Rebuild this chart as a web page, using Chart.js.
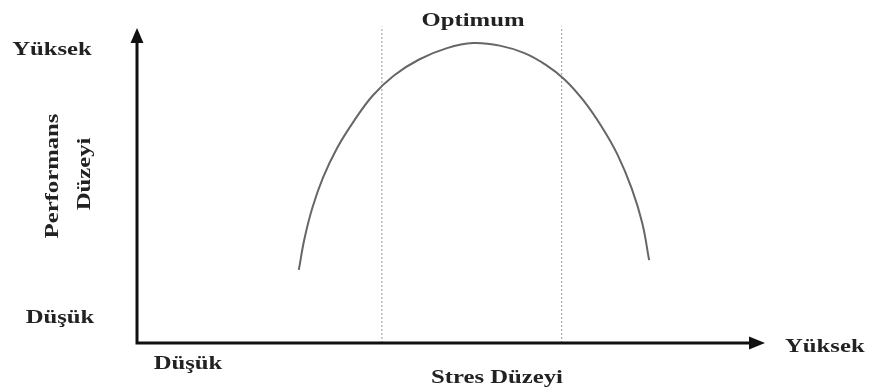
<!DOCTYPE html>
<html>
<head>
<meta charset="utf-8">
<script src="https://cdn.jsdelivr.net/npm/chart.js@4"></script>
<style>
  html, body { margin: 0; padding: 0; background: #fff; }
  #wrap { width: 870px; height: 390px; }
</style>
</head>
<body>
<div id="wrap"><canvas id="stressChart" width="870" height="390"></canvas></div>
<script>
// stress level (0-100) vs performance level (0-100)
const stressLevel = [26.1, 27.0, 28.3, 30.0, 32.3, 35.0, 38.0, 41.5, 45.5, 50.0, 54.2, 58.5, 62.5, 66.0, 69.0, 72.0, 75.0, 77.5, 79.8, 81.5, 82.6];
const performance = [23.2, 33.0, 43.0, 52.5, 62.0, 70.5, 78.5, 85.0, 90.0, 93.6, 95.2, 94.4, 92.0, 88.2, 83.6, 77.0, 68.5, 59.8, 49.0, 38.0, 26.3];
// borders of the optimum zone
const optimumBounds = [39.5, 68.5];
const lowHigh = ["Düşük", "Yüksek"];
const yTitle = ["Performans", "Düzeyi"];
const xTitle = "Stres Düzeyi";
const peakLabel = "Optimum";

const FONT = "bold 19px 'Liberation Serif', 'Times New Roman', serif";

function stretchText(ctx, text, x, y, rot, align) {
  ctx.save();
  ctx.translate(x, y);
  if (rot) ctx.rotate(rot);
  ctx.scale(1.3, 1);
  ctx.textAlign = align || "center";
  ctx.fillText(text, 0, 0);
  ctx.restore();
}

const axesPlugin = {
  id: "axesArrows",
  afterDraw(chart) {
    const { ctx, chartArea: a } = chart;
    const x0 = a.left, y0 = a.bottom;
    ctx.save();
    ctx.strokeStyle = "#111";
    ctx.fillStyle = "#111";
    ctx.lineWidth = 3;
    ctx.beginPath();
    ctx.moveTo(x0, y0);
    ctx.lineTo(x0, a.top + 12);
    ctx.moveTo(x0 - 1.5, y0);
    ctx.lineTo(a.right, y0);
    ctx.stroke();
    // arrow heads
    ctx.beginPath();
    ctx.moveTo(x0, a.top);
    ctx.lineTo(x0 - 6.5, a.top + 15);
    ctx.lineTo(x0 + 6.5, a.top + 15);
    ctx.closePath();
    ctx.fill();
    ctx.beginPath();
    ctx.moveTo(a.right + 8, y0);
    ctx.lineTo(a.right - 8, y0 - 6.5);
    ctx.lineTo(a.right - 8, y0 + 6.5);
    ctx.closePath();
    ctx.fill();

    // labels
    ctx.fillStyle = "#222";
    ctx.font = FONT;
    ctx.textBaseline = "middle";
    const xs = chart.scales.x;
    stretchText(ctx, lowHigh[1], 52, 50);
    stretchText(ctx, lowHigh[0], 60, 318);
    stretchText(ctx, lowHigh[0], 188, 364);
    stretchText(ctx, lowHigh[1], a.right + 28, y0 + 4, 0, "left");
    stretchText(ctx, xTitle, 497, 378);
    stretchText(ctx, peakLabel, xs.getPixelForValue(54.2), 21);
    stretchText(ctx, yTitle[0], 53, 176, -Math.PI / 2);
    stretchText(ctx, yTitle[1], 85, 174, -Math.PI / 2);
    ctx.restore();
  }
};

const curve = stressLevel.map((x, i) => ({ x: x, y: performance[i] }));
const boundSets = optimumBounds.map(b => ({
  data: [{ x: b, y: 0 }, { x: b, y: 100.5 }],
  borderColor: "#9a9a9a",
  borderWidth: 1,
  borderDash: [2, 2],
  pointRadius: 0,
  clip: false
}));

new Chart(document.getElementById("stressChart"), {
  type: "line",
  data: {
    datasets: [{
      data: curve,
      borderColor: "#666",
      borderWidth: 2,
      pointRadius: 0,
      tension: 0.4,
      clip: false
    }].concat(boundSets)
  },
  options: {
    responsive: false,
    animation: false,
    layout: { padding: { left: 137, top: 28, right: 113, bottom: 47 } },
    plugins: { legend: { display: false }, tooltip: { enabled: false } },
    scales: {
      x: { type: "linear", min: 0, max: 100, display: false },
      y: { type: "linear", min: 0, max: 100, display: false }
    }
  },
  plugins: [axesPlugin]
});
</script>
</body>
</html>
